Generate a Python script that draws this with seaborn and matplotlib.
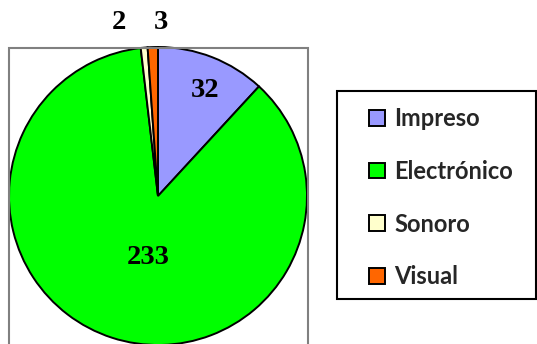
import matplotlib
matplotlib.use("Agg")
import matplotlib.pyplot as plt
from matplotlib.patches import Rectangle
import seaborn as sns

# Media types and their counts
categories = ["Impreso", "Electrónico", "Sonoro", "Visual"]
counts = [32, 233, 2, 3]
colors = ["#9999FF", "#00FF00", "#FFFFCC", "#FF6600"]

# where each count label sits (pie radius units, centre at origin)
label_pos = [(0.315, 0.705), (-0.064, -0.416), (-0.265, 1.164), (0.023, 1.164)]

sns.set_style("white")

W, H = 537, 344
fig = plt.figure(figsize=(W / 100, H / 100), dpi=100)
fig.patch.set_facecolor("white")

# pie axes: centre (158, 196) px, radius 149 px
cx, cy, r = 158, 196, 149
ax = fig.add_axes([(cx - r) / W, (H - cy - r) / H, 2 * r / W, 2 * r / H])

wedges, _ = ax.pie(counts, colors=colors, startangle=90, counterclock=False,
                   radius=1, wedgeprops=dict(edgecolor="black", linewidth=1.4))
ax.set_xlim(-1, 1)
ax.set_ylim(-1, 1)
ax.set_aspect("equal")
ax.axis("off")
for w in wedges:
    w.set_clip_on(False)

# plot-area frame (runs off the bottom edge)
frame = Rectangle((9 / W, -0.05), (308 - 9) / W, (H - 48) / H + 0.05,
                  transform=fig.transFigure, fill=False,
                  edgecolor="#808080", linewidth=1.5, zorder=0)
fig.patches.append(frame)

# value labels
label_font = dict(family="Liberation Serif", fontweight="bold", fontsize=20.5,
                  ha="center", va="center", color="black")
for v, (x, y) in zip(counts, label_pos):
    t = ax.text(x, y, str(v), **label_font)
    t.set_clip_on(False)

# legend frame
box = Rectangle((337 / W, (H - 299) / H), (536 - 337) / W, (299 - 91) / H,
                transform=fig.transFigure, fill=False,
                edgecolor="black", linewidth=1.5)
fig.patches.append(box)

# legend entries
handles = [Rectangle((0, 0), 1, 1, facecolor=c, edgecolor="black", linewidth=1.4)
           for c in colors]
leg = fig.legend(handles, categories, loc="upper left",
                 bbox_to_anchor=(369 / W, (H - 107) / H),
                 frameon=False,
                 prop=dict(family="Lato", weight="bold", size=17),
                 handlelength=0.68, handleheight=0.64, handletextpad=0.38,
                 labelspacing=1.26, borderpad=0.0, borderaxespad=0.0)

fig.savefig("out.png", dpi=100, facecolor="white")
